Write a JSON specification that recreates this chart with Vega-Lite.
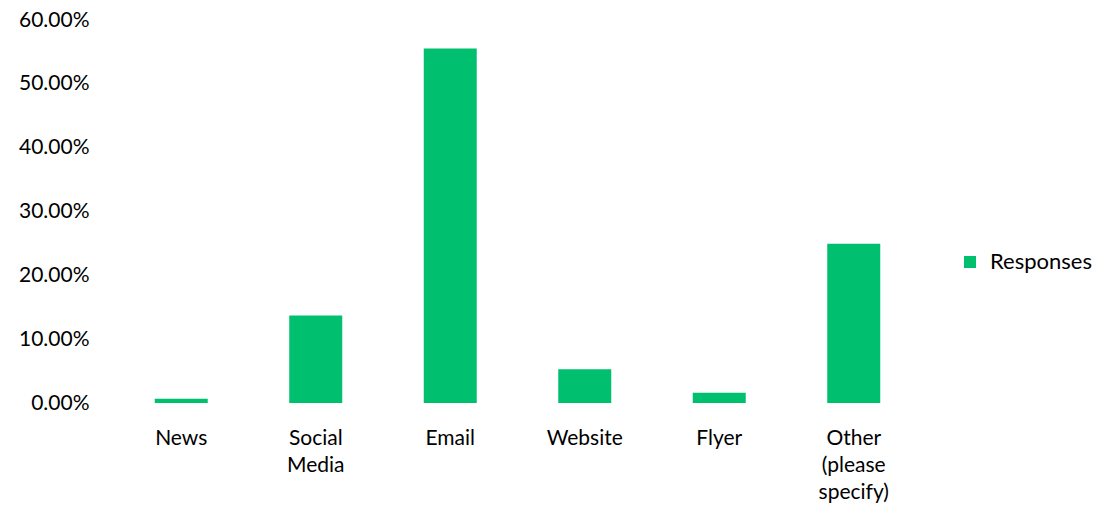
{
  "$schema": "https://vega.github.io/schema/vega-lite/v6.json",
  "autosize": "none",
  "width": 807,
  "height": 383,
  "padding": {"left": 114, "top": 20, "right": 181, "bottom": 113},
  "background": "white",
  "config": {"view": {"stroke": null}, "font": "Lato"},
  "data": {"values": [
    {"source": "News", "share": 0.0068, "series": "Responses"},
    {"source": "Social Media", "share": 0.137, "series": "Responses"},
    {"source": "Email", "share": 0.5555, "series": "Responses"},
    {"source": "Website", "share": 0.053, "series": "Responses"},
    {"source": "Flyer", "share": 0.016, "series": "Responses"},
    {"source": "Other (please specify)", "share": 0.2494, "series": "Responses"}
  ]},
  "mark": {"type": "bar"},
  "encoding": {
    "x": {
      "field": "source", "type": "nominal", "sort": null,
      "scale": {"paddingInner": 0.606, "paddingOuter": 0.303},
      "axis": {
        "title": null, "domain": false, "ticks": false, "labelAngle": 0,
        "labelFont": "Lato", "labelFontSize": 21, "labelColor": "#000000",
        "labelPadding": 24, "labelLineHeight": 27, "labelBaseline": "top",
        "labelExpr": "datum.label == 'Social Media' ? ['Social', 'Media'] : datum.label == 'Other (please specify)' ? ['Other', '(please', 'specify)'] : datum.label"
      }
    },
    "y": {
      "field": "share", "type": "quantitative",
      "scale": {"domain": [0, 0.6], "nice": false},
      "axis": {
        "title": null, "domain": false, "ticks": false, "grid": false,
        "values": [0, 0.1, 0.2, 0.3, 0.4, 0.5, 0.6], "format": ".2%",
        "labelFont": "Lato", "labelFontSize": 21, "labelColor": "#000000",
        "labelPadding": 25
      }
    },
    "color": {
      "field": "series", "type": "nominal",
      "scale": {"range": ["#00BF6F"]},
      "legend": {
        "title": null, "orient": "none", "legendX": 845, "legendY": 231,
        "symbolType": "square", "symbolSize": 144, "symbolStrokeWidth": 0,
        "labelFont": "Lato", "labelFontSize": 22, "labelColor": "#000000",
        "labelOffset": 9
      }
    }
  }
}
